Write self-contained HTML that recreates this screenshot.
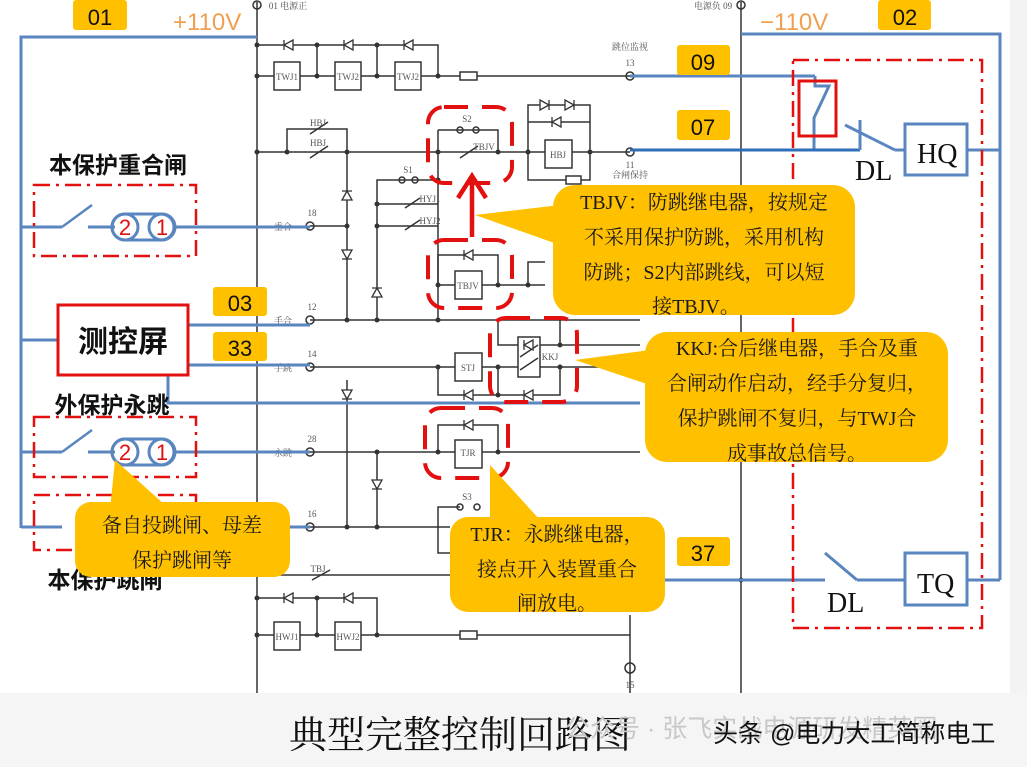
<!DOCTYPE html>
<html><head><meta charset="utf-8"><style>
html,body{margin:0;padding:0;background:#fff;}
svg{display:block;font-family:"Liberation Serif","Noto Serif CJK SC",serif;}
.s{font-family:"Liberation Sans","Noto Sans CJK SC",sans-serif;}
</style></head><body>
<svg width="1027" height="767" viewBox="0 0 1027 767" xmlns="http://www.w3.org/2000/svg">
<rect x="0" y="0" width="1027" height="767" fill="#fff"/>
<rect x="1010" y="0" width="17" height="767" fill="#f3f3f3"/>
<rect x="0" y="693" width="1027" height="74" fill="#f5f5f5"/>

<g stroke="#333" stroke-width="1.5" fill="none">
<line x1="257" y1="2" x2="257" y2="693"/>
<line x1="741" y1="2" x2="741" y2="693"/>
<polyline points="257,45 438,45 438,76"/>
<line x1="317" y1="45" x2="317" y2="76"/><line x1="377" y1="45" x2="377" y2="76"/>
<line x1="257" y1="76" x2="630" y2="76"/>
<rect x="274" y="62" width="26" height="28" fill="#fff"/><rect x="335" y="62" width="26" height="28" fill="#fff"/><rect x="395" y="62" width="26" height="28" fill="#fff"/>
<rect x="460" y="72" width="17" height="8" fill="#fff"/>
<line x1="257" y1="152" x2="630" y2="152"/>
<polyline points="287,152 287,129 347,129 347,152"/>
<line x1="347" y1="152" x2="347" y2="320"/>
<polyline points="377,320 377,180 438,180"/>
<line x1="377" y1="204" x2="438" y2="204"/><line x1="377" y1="226" x2="438" y2="226"/>
<line x1="438" y1="130" x2="438" y2="320"/>
<polyline points="438,130 498,130 498,152"/>
<line x1="310" y1="226" x2="347" y2="226"/>
<polyline points="528,152 528,105 590,105 590,152"/>
<line x1="528" y1="122" x2="590" y2="122"/>
<polyline points="528,152 528,180 590,180 590,152"/>
<rect x="545" y="140" width="27" height="28" fill="#fff"/>
<rect x="566" y="176" width="15" height="8" fill="#fff"/>
<polyline points="438,285 438,255 498,255 498,285"/>
<line x1="438" y1="285" x2="545" y2="285"/>
<polyline points="528,285 528,262 545,262"/>
<rect x="455" y="271" width="27" height="28" fill="#fff"/>
<line x1="310" y1="320" x2="640" y2="320"/>
<polyline points="498,320 498,345 560,345 560,320"/>
<line x1="560" y1="345" x2="640" y2="345"/>
<line x1="310" y1="367" x2="640" y2="367"/>
<polyline points="438,367 438,395 560,395 560,367"/>
<line x1="498" y1="367" x2="498" y2="395"/>
<rect x="455" y="353" width="27" height="28" fill="#fff"/>
<rect x="518" y="337" width="22" height="40" fill="#fff"/>
<line x1="520" y1="357" x2="538" y2="345"/><line x1="520" y1="370" x2="538" y2="358"/>
<line x1="310" y1="452" x2="640" y2="452"/>
<polyline points="438,452 438,425 498,425 498,452"/>
<rect x="455" y="440" width="27" height="28" fill="#fff"/>
<line x1="377" y1="452" x2="377" y2="527"/>
<line x1="347" y1="380" x2="347" y2="527"/>
<line x1="310" y1="527" x2="450" y2="527"/>
<polyline points="438,527 438,507 460,507"/>
<polyline points="438,527 438,553 450,553"/>
<line x1="280" y1="575" x2="450" y2="575"/>
<polyline points="257,598 377,598 377,635"/>
<line x1="317" y1="598" x2="317" y2="635"/>
<line x1="257" y1="635" x2="630" y2="635"/>
<rect x="274" y="622" width="26" height="28" fill="#fff"/><rect x="335" y="622" width="26" height="28" fill="#fff"/>
<rect x="460" y="631" width="17" height="8" fill="#fff"/>
<line x1="630" y1="615" x2="630" y2="693"/>
<circle cx="630" cy="76" r="4"/><circle cx="630" cy="152" r="4"/><circle cx="310" cy="226" r="4"/><circle cx="310" cy="320" r="4"/><circle cx="310" cy="367" r="4"/><circle cx="310" cy="452" r="4"/><circle cx="310" cy="527" r="4"/><circle cx="630" cy="668" r="5"/>
<circle cx="257" cy="5" r="4"/><circle cx="741" cy="5" r="4"/>
<circle cx="460" cy="130" r="3"/><circle cx="476" cy="130" r="3"/><circle cx="402" cy="180" r="3"/><circle cx="415" cy="180" r="3"/><circle cx="460" cy="507" r="3"/><circle cx="477" cy="507" r="3"/>
<line x1="460" y1="158" x2="478" y2="146"/><line x1="310" y1="158" x2="328" y2="146"/><line x1="310" y1="134" x2="328" y2="122"/>
<line x1="405" y1="208" x2="420" y2="198"/><line x1="405" y1="230" x2="420" y2="220"/><line x1="312" y1="580" x2="330" y2="570"/>
</g>
<g fill="#333">
<circle cx="257" cy="45" r="2.5"/><circle cx="257" cy="76" r="2.5"/><circle cx="317" cy="45" r="2.5"/><circle cx="317" cy="76" r="2.5"/><circle cx="377" cy="45" r="2.5"/><circle cx="377" cy="76" r="2.5"/><circle cx="438" cy="76" r="2.5"/>
<circle cx="257" cy="152" r="2.5"/><circle cx="287" cy="152" r="2.5"/><circle cx="347" cy="152" r="2.5"/><circle cx="438" cy="152" r="2.5"/><circle cx="498" cy="152" r="2.5"/><circle cx="528" cy="152" r="2.5"/><circle cx="590" cy="152" r="2.5"/>
<circle cx="347" cy="226" r="2.5"/><circle cx="347" cy="320" r="2.5"/><circle cx="377" cy="320" r="2.5"/><circle cx="438" cy="320" r="2.5"/><circle cx="438" cy="285" r="2.5"/><circle cx="498" cy="285" r="2.5"/><circle cx="528" cy="285" r="2.5"/>
<circle cx="377" cy="204" r="2.5"/><circle cx="377" cy="226" r="2.5"/><circle cx="438" cy="180" r="2.5"/><circle cx="498" cy="367" r="2.5"/><circle cx="560" cy="367" r="2.5"/><circle cx="560" cy="345" r="2.5"/><circle cx="438" cy="367" r="2.5"/><circle cx="498" cy="395" r="2.5"/>
<circle cx="438" cy="452" r="2.5"/><circle cx="498" cy="452" r="2.5"/><circle cx="377" cy="452" r="2.5"/><circle cx="347" cy="527" r="2.5"/><circle cx="377" cy="527" r="2.5"/>
<circle cx="257" cy="598" r="2.5"/><circle cx="257" cy="635" r="2.5"/><circle cx="317" cy="598" r="2.5"/><circle cx="317" cy="635" r="2.5"/><circle cx="377" cy="635" r="2.5"/><circle cx="741" cy="580" r="2.5"/>
</g>
<g fill="#fff" stroke="#333" stroke-width="1.3">
<path d="M283,40 v10 l9,-5 z M292,40 v10" transform="rotate(180 288 45)"/>
<path d="M343,40 v10 l9,-5 z M352,40 v10" transform="rotate(180 348 45)"/>
<path d="M403,40 v10 l9,-5 z M412,40 v10" transform="rotate(180 408 45)"/>
<path d="M283,593 v10 l9,-5 z M292,593 v10" transform="rotate(180 288 598)"/>
<path d="M343,593 v10 l9,-5 z M352,593 v10" transform="rotate(180 348 598)"/>
<path d="M342,200 h10 l-5,-9 z M342,191 h10"/>
<path d="M342,250 h10 l-5,9 z M342,259 h10"/>
<path d="M372,297 h10 l-5,-9 z M372,288 h10"/>
<path d="M342,390 h10 l-5,9 z M342,399 h10"/>
<path d="M372,480 h10 l-5,9 z M372,489 h10"/>
<path d="M540,100 v10 l9,-5 z M549,100 v10"/>
<path d="M565,100 v10 l9,-5 z M574,100 v10"/>
<path d="M553,117 v10 l9,-5 z M562,117 v10" transform="rotate(180 557 122)"/>
<path d="M463,250 v10 l9,-5 z M472,250 v10" transform="rotate(180 468 255)"/>
<path d="M463,420 v10 l9,-5 z M472,420 v10" transform="rotate(180 468 425)"/>
<path d="M463,390 v10 l9,-5 z M472,390 v10" transform="rotate(180 468 395)"/>
<path d="M523,390 v10 l9,-5 z M532,390 v10" transform="rotate(180 528 395)"/>
<path d="M523,340 v10 l9,-5 z M532,340 v10" transform="rotate(180 528 345)"/>
</g>
<g font-size="9" fill="#555" text-anchor="middle">
<text x="287" y="80">TWJ1</text><text x="348" y="80">TWJ2</text><text x="408" y="80">TWJ2</text>
<text x="287" y="640">HWJ1</text><text x="348" y="640">HWJ2</text>
<text x="558" y="158">HBJ</text><text x="468" y="289">TBJV</text><text x="468" y="371">STJ</text><text x="468" y="456">TJR</text>
<text x="550" y="360">KKJ</text><text x="484" y="150">TBJV</text><text x="318" y="126">HBJ</text><text x="318" y="146">HBJ</text>
<text x="467" y="122">S2</text><text x="408" y="173">S1</text><text x="430" y="202">HYJ1</text><text x="430" y="224">HYJ2</text><text x="467" y="500">S3</text><text x="318" y="572">TBJ</text>
<text x="312" y="216">18</text><text x="312" y="310">12</text><text x="312" y="357">14</text><text x="312" y="442">28</text><text x="312" y="517">16</text>
<text x="630" y="66">13</text><text x="630" y="168">11</text><text x="630" y="688">15</text>
<text x="288" y="9">01 电源正</text><text x="713" y="9">电源负 09</text><text x="630" y="50">跳位监视</text><text x="630" y="178">合闸保持</text>
<text x="283" y="230">重合</text><text x="283" y="324">手合</text><text x="283" y="371">手跳</text><text x="283" y="456">永跳</text>
</g>

<g stroke="#5a86c0" stroke-width="3" fill="none">
<polyline points="257,37 21,37 21,528"/>
<line x1="21" y1="227" x2="62" y2="227"/><line x1="62" y1="227" x2="92" y2="205" stroke-width="2.5"/>
<line x1="88" y1="227" x2="115" y2="227"/>
<line x1="176" y1="227" x2="310" y2="227"/>
<line x1="21" y1="340" x2="58" y2="340"/>
<line x1="188" y1="325" x2="310" y2="325"/><line x1="188" y1="365" x2="310" y2="365"/>
<polyline points="168,375 168,403 640,403"/>
<line x1="21" y1="452" x2="62" y2="452"/><line x1="62" y1="452" x2="92" y2="430" stroke-width="2.5"/>
<line x1="88" y1="452" x2="115" y2="452"/><line x1="176" y1="452" x2="310" y2="452"/>
<line x1="21" y1="527" x2="62" y2="527"/><line x1="290" y1="527" x2="310" y2="527"/>
<polyline points="741,34 1000,34 1000,580"/>
<line x1="630" y1="76" x2="815" y2="76"/><polyline points="815,76 815,86 829,86 814,118 814,150"/>
<line x1="630" y1="150" x2="860" y2="150" stroke="#2f6fb8"/>
<polyline points="860,150 860,120"/><line x1="845" y1="125" x2="895" y2="150"/>
<polyline points="895,150 905,150"/><line x1="967" y1="150" x2="1000" y2="150"/>
<rect x="905" y="124" width="62" height="51" fill="#fff"/>
<line x1="665" y1="580" x2="825" y2="580"/><line x1="825" y1="553" x2="857" y2="580"/><line x1="857" y1="580" x2="905" y2="580"/><line x1="967" y1="580" x2="1000" y2="580"/>
<rect x="905" y="553" width="62" height="52" fill="#fff"/>
</g>
<g stroke="#5a86c0" stroke-width="3" fill="none">
<path d="M125,214 h36 a13,13 0 0 1 0,26 h-36 a13,13 0 0 1 0,-26z"/><circle cx="125" cy="227" r="13"/><circle cx="162" cy="227" r="13"/>
<path d="M125,439 h36 a13,13 0 0 1 0,26 h-36 a13,13 0 0 1 0,-26z"/><circle cx="125" cy="452" r="13"/><circle cx="162" cy="452" r="13"/>
</g>
<g fill="#e01010" font-size="22" text-anchor="middle" font-family="Liberation Sans,sans-serif"><text x="125" y="235">2</text><text x="162" y="235">1</text><text x="125" y="460">2</text><text x="162" y="460">1</text></g>

<g stroke="#e31010" stroke-width="2.5" fill="none" stroke-dasharray="16,6,3,6">
<rect x="34" y="185" width="162" height="71"/>
<rect x="34" y="417" width="162" height="60"/>
<rect x="34" y="495" width="162" height="55"/>
<rect x="793" y="60" width="189" height="568"/>
</g>
<g stroke="#e31010" stroke-width="4" fill="none" stroke-dasharray="24,14">
<rect x="428" y="107" width="84" height="76" rx="16"/>
<rect x="428" y="240" width="84" height="68" rx="16"/>
<rect x="490" y="318" width="87" height="84" rx="16"/>
<rect x="425" y="408" width="83" height="70" rx="16"/>
</g>
<rect x="799" y="81" width="37" height="55" fill="none" stroke="#e31010" stroke-width="3"/>
<g stroke="#e31010" stroke-width="4.5" fill="none"><line x1="472" y1="237" x2="472" y2="178"/><polyline points="458,198 472,176 486,198"/></g>
<rect x="58" y="305" width="130" height="70" fill="#fff" stroke="#e31010" stroke-width="3"/>

<g fill="#ffc000">
<rect x="73" y="0" width="54" height="30" rx="3"/><rect x="878" y="0" width="53" height="30" rx="3"/>
<rect x="677" y="45" width="53" height="30" rx="3"/><rect x="677" y="110" width="53" height="30" rx="3"/>
<rect x="213" y="287" width="54" height="29" rx="3"/><rect x="213" y="332" width="54" height="29" rx="3"/>
<rect x="677" y="537" width="53" height="29" rx="3"/>
</g>
<g class="s" font-size="22" text-anchor="middle" fill="#111">
<text x="100" y="25">01</text><text x="905" y="25">02</text><text x="703" y="70">09</text><text x="703" y="135">07</text><text x="240" y="311">03</text><text x="240" y="356">33</text><text x="703" y="561">37</text>
</g>
<g class="s" font-size="24" fill="#f0a050"><text x="173" y="30">+110V</text><text x="760" y="30">−110V</text></g>
<g font-size="28" fill="#111"><text x="917" y="163">HQ</text><text x="917" y="593">TQ</text><text x="855" y="180">DL</text><text x="827" y="612">DL</text></g>
<g class="s" font-weight="bold" fill="#111" text-anchor="middle">
<text x="118" y="173" font-size="23">本保护重合闸</text>
<text x="123" y="352" font-size="30">测控屏</text>
<text x="112" y="413" font-size="23">外保护永跳</text>
<text x="105" y="588" font-size="23">本保护跳闸</text>
</g>

<g fill="#ffc000">
<rect x="553" y="185" width="302" height="130" rx="22"/><polygon points="475,215 560,205 560,245"/>
<rect x="645" y="332" width="303" height="130" rx="22"/><polygon points="575,360 650,350 650,385"/>
<rect x="450" y="517" width="215" height="95" rx="18"/><polygon points="490,465 490,525 540,520"/>
<rect x="75" y="502" width="215" height="75" rx="16"/><polygon points="115,460 110,510 165,505"/>
</g>
<g font-size="20" fill="#1a1a1a" text-anchor="middle">
<text x="704" y="209">TBJV：防跳继电器，按规定</text>
<text x="704" y="244">不采用保护防跳，采用机构</text>
<text x="704" y="279">防跳；S2内部跳线，可以短</text>
<text x="696" y="313">接TBJV。</text>
<text x="797" y="355">KKJ:合后继电器，手合及重</text>
<text x="797" y="390">合闸动作启动，经手分复归，</text>
<text x="797" y="425">保护跳闸不复归，与TWJ合</text>
<text x="797" y="460">成事故总信号。</text>
<text x="557" y="541">TJR：永跳继电器，</text>
<text x="557" y="576">接点开入装置重合</text>
<text x="557" y="610">闸放电。</text>
<text x="182" y="532">备自投跳闸、母差</text>
<text x="182" y="567">保护跳闸等</text>
</g>

<text x="460" y="748" font-size="38" text-anchor="middle" fill="#111" font-family="Liberation Serif,Noto Serif CJK SC,serif">典型完整控制回路图</text>
<text x="565" y="737" class="s" font-size="25" fill="#c8c8c8">公众号 · 张飞实战电源研发精英圈</text>
<text x="713" y="742" class="s" font-size="25" fill="#111">头条 @电力大工简称电工</text>
</svg>
</body></html>
